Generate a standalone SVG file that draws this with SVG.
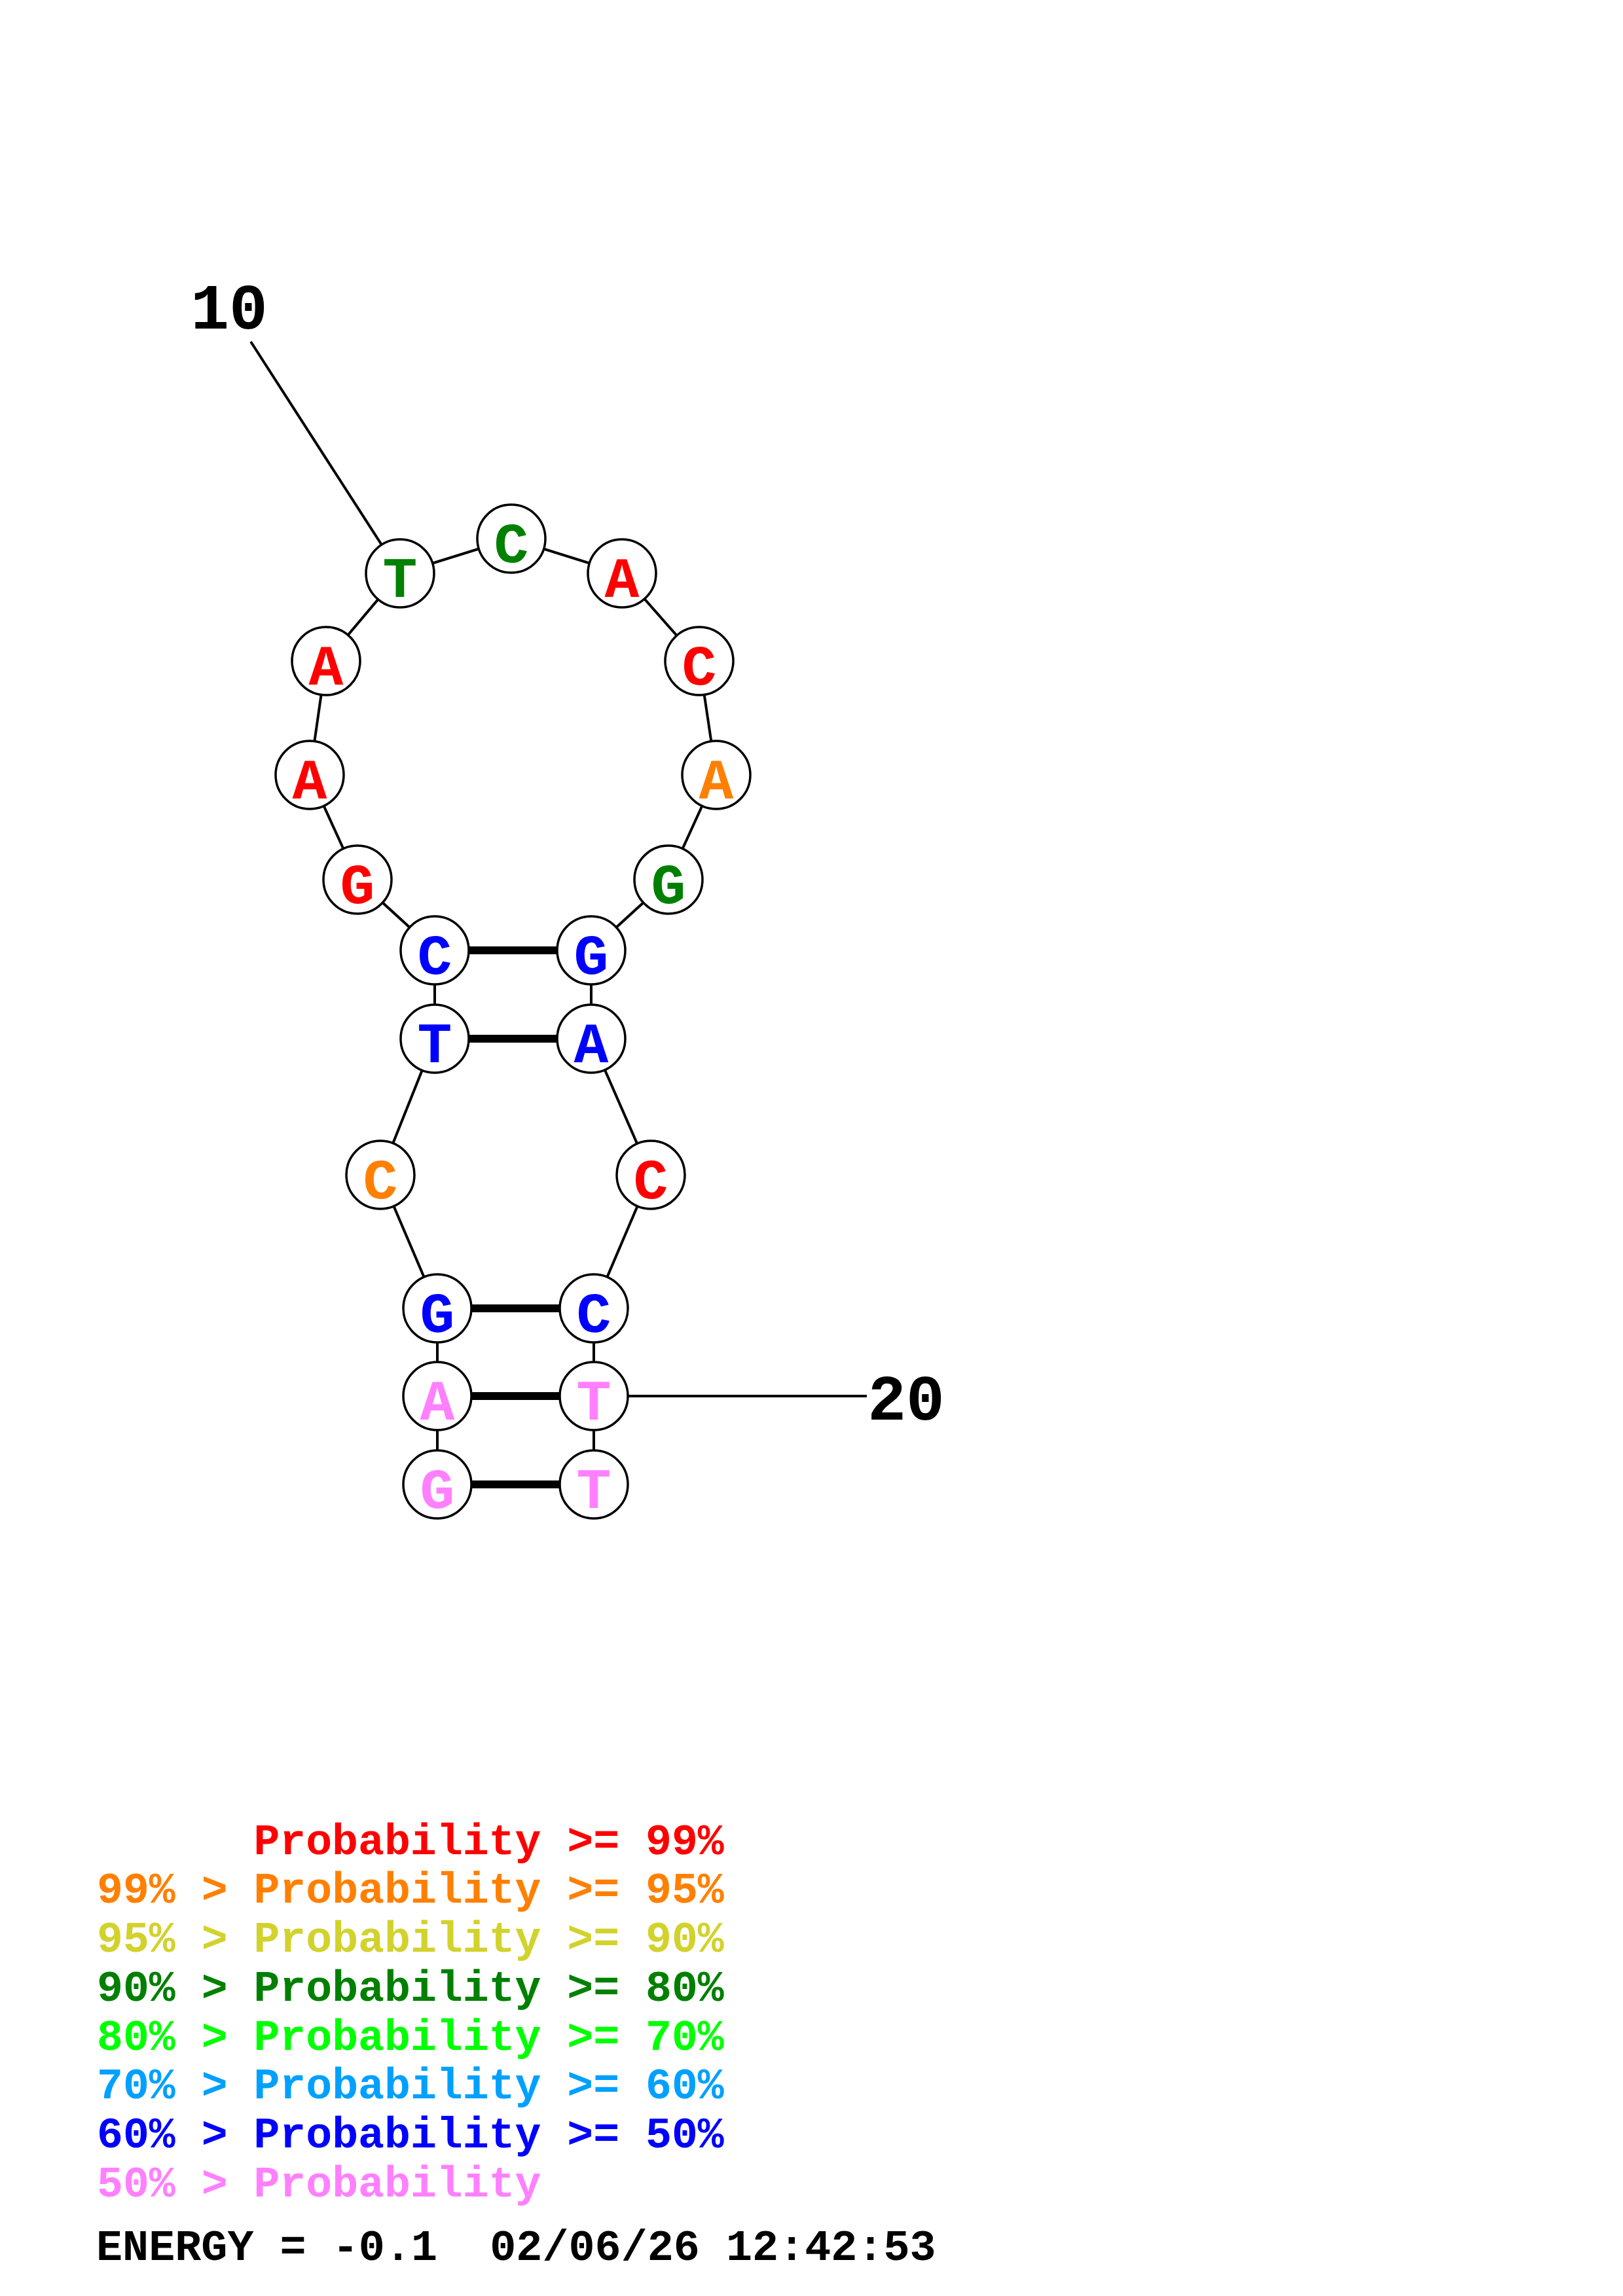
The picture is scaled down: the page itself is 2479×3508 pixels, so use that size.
<svg xmlns="http://www.w3.org/2000/svg" width="2479" height="3508" viewBox="0 0 2479 3508">
<style>
.bb{stroke:#000;stroke-width:4;fill:none}
.pr{stroke:#000;stroke-width:12;fill:none}
.nc{fill:#fff;stroke:#000;stroke-width:3.5}
.nt{font-family:"Liberation Mono","DejaVu Sans Mono",monospace;font-weight:bold;font-size:88px;text-anchor:middle}
.lb{font-family:"Liberation Mono","DejaVu Sans Mono",monospace;font-weight:bold;font-size:98px;text-anchor:middle;fill:#000}
.lg{font-family:"Liberation Mono","DejaVu Sans Mono",monospace;font-weight:bold;font-size:66.5px}
.en{font-family:"Liberation Mono","DejaVu Sans Mono",monospace;font-weight:bold;font-size:66.8px;fill:#000}
.red{fill:#ff0000}.org{fill:#ff8000}.yel{fill:#d2d22d}.dgr{fill:#008000}.lgr{fill:#00ff00}.lbl{fill:#00a0ff}.blu{fill:#0000ff}.pnk{fill:#ff80ff}
</style>
<rect width="2479" height="3508" fill="#fff"/>
<g id="connectors">
<polyline class="bb" points="668,2268 668,2133 668,1999 581,1795 664,1587 664,1452 546,1344 473,1184 498,1010 611,876 781,823 950,876 1068,1010 1094,1184 1021,1344 903,1452 903,1587 994,1795 907,1999 907,2133 907,2268"/>
<line class="pr" x1="664" y1="1452" x2="903" y2="1452"/>
<line class="pr" x1="664" y1="1587" x2="903" y2="1587"/>
<line class="pr" x1="668" y1="1999" x2="907" y2="1999"/>
<line class="pr" x1="668" y1="2133" x2="907" y2="2133"/>
<line class="pr" x1="668" y1="2268" x2="907" y2="2268"/>
<line class="bb" stroke-width="3" x1="383" y1="522" x2="611" y2="876"/>
<line class="bb" stroke-width="3" x1="907" y1="2133" x2="1324" y2="2133"/>
</g>
<g id="labels">
<text class="lb" x="350" y="502">10</text>
<text class="lb" x="1384" y="2169">20</text>
</g>
<g id="n1"><circle class="nc" cx="668" cy="2268" r="52"/><text class="nt pnk" x="668" y="2304">G</text></g>
<g id="n2"><circle class="nc" cx="668" cy="2133" r="52"/><text class="nt pnk" x="668" y="2169">A</text></g>
<g id="n3"><circle class="nc" cx="668" cy="1999" r="52"/><text class="nt blu" x="668" y="2035">G</text></g>
<g id="n4"><circle class="nc" cx="581" cy="1795" r="52"/><text class="nt org" x="581" y="1831">C</text></g>
<g id="n5"><circle class="nc" cx="664" cy="1587" r="52"/><text class="nt blu" x="664" y="1623">T</text></g>
<g id="n6"><circle class="nc" cx="664" cy="1452" r="52"/><text class="nt blu" x="664" y="1488">C</text></g>
<g id="n7"><circle class="nc" cx="546" cy="1344" r="52"/><text class="nt red" x="546" y="1380">G</text></g>
<g id="n8"><circle class="nc" cx="473" cy="1184" r="52"/><text class="nt red" x="473" y="1220">A</text></g>
<g id="n9"><circle class="nc" cx="498" cy="1010" r="52"/><text class="nt red" x="498" y="1046">A</text></g>
<g id="n10"><circle class="nc" cx="611" cy="876" r="52"/><text class="nt dgr" x="611" y="912">T</text></g>
<g id="n11"><circle class="nc" cx="781" cy="823" r="52"/><text class="nt dgr" x="781" y="859">C</text></g>
<g id="n12"><circle class="nc" cx="950" cy="876" r="52"/><text class="nt red" x="950" y="912">A</text></g>
<g id="n13"><circle class="nc" cx="1068" cy="1010" r="52"/><text class="nt red" x="1068" y="1046">C</text></g>
<g id="n14"><circle class="nc" cx="1094" cy="1184" r="52"/><text class="nt org" x="1094" y="1220">A</text></g>
<g id="n15"><circle class="nc" cx="1021" cy="1344" r="52"/><text class="nt dgr" x="1021" y="1380">G</text></g>
<g id="n16"><circle class="nc" cx="903" cy="1452" r="52"/><text class="nt blu" x="903" y="1488">G</text></g>
<g id="n17"><circle class="nc" cx="903" cy="1587" r="52"/><text class="nt blu" x="903" y="1623">A</text></g>
<g id="n18"><circle class="nc" cx="994" cy="1795" r="52"/><text class="nt red" x="994" y="1831">C</text></g>
<g id="n19"><circle class="nc" cx="907" cy="1999" r="52"/><text class="nt blu" x="907" y="2035">C</text></g>
<g id="n20"><circle class="nc" cx="907" cy="2133" r="52"/><text class="nt pnk" x="907" y="2169">T</text></g>
<g id="n21"><circle class="nc" cx="907" cy="2268" r="52"/><text class="nt pnk" x="907" y="2304">T</text></g>
<g id="legend">
<text class="lg red" x="387.4" y="2833">Probability &gt;= 99%</text>
<text class="lg org" x="148" y="2907">99% &gt; Probability &gt;= 95%</text>
<text class="lg yel" x="148" y="2982">95% &gt; Probability &gt;= 90%</text>
<text class="lg dgr" x="148" y="3057">90% &gt; Probability &gt;= 80%</text>
<text class="lg lgr" x="148" y="3132">80% &gt; Probability &gt;= 70%</text>
<text class="lg lbl" x="148" y="3206">70% &gt; Probability &gt;= 60%</text>
<text class="lg blu" x="148" y="3281">60% &gt; Probability &gt;= 50%</text>
<text class="lg pnk" x="148" y="3356">50% &gt; Probability</text>
<text class="en" x="147" y="3453" xml:space="preserve">ENERGY = -0.1  02/06/26 12:42:53</text>
</g>
</svg>
